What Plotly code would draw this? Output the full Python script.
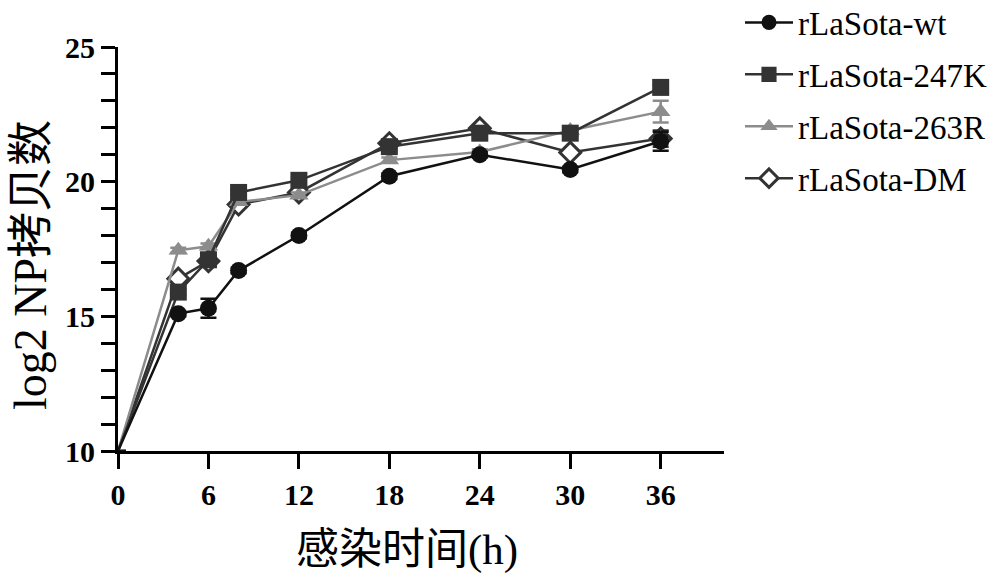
import plotly.graph_objects as go

hours = [0, 4, 6, 8, 12, 18, 24, 30, 36]
wt = [10, 15.1, 15.3, 16.7, 18.0, 20.2, 21.0, 20.45, 21.5]
k247 = [10, 15.9, 17.1, 19.6, 20.05, 21.3, 21.8, 21.8, 23.5]
r263 = [10, 17.45, 17.6, 19.25, 19.5, 20.8, 21.1, 21.9, 22.6]
dm = [10, 16.4, 17.05, 19.15, 19.6, 21.43, 21.98, 21.08, 21.6]
wt_err = [None, 0.1, 0.35, 0.1, 0.1, 0.1, 0.1, 0.1, 0.35]
k247_err = [None, 0.1, 0.1, 0.1, 0.1, 0.1, 0.1, 0.1, 0.1]
r263_err = [None, 0.1, 0.1, 0.1, 0.1, 0.1, 0.1, 0.1, 0.4]
dm_err = [None, 0.1, 0.1, 0.1, 0.1, 0.1, 0.1, 0.1, 0.3]


def sizes(s):
    return [0] + [s] * (len(hours) - 1)


series = [
    ("rLaSota-DM", dm, dm_err, "#333333", dict(symbol="diamond", color="white", size=sizes(16),
                                                line=dict(color="#333333", width=3)), 4),
    ("rLaSota-263R", r263, r263_err, "#8c8c8c", dict(symbol="triangle-up", color="#8c8c8c", size=sizes(17),
                                                      line=dict(width=0)), 3),
    ("rLaSota-247K", k247, k247_err, "#333333", dict(symbol="square", color="#333333", size=sizes(17),
                                                      line=dict(width=0)), 2),
    ("rLaSota-wt", wt, wt_err, "#111111", dict(symbol="circle", color="#111111", size=sizes(17),
                                               line=dict(width=0)), 1),
]

fig = go.Figure()
for name, vals, err, col, mk, rank in series:
    mk = dict(mk, opacity=1)
    fig.add_trace(go.Scatter(
        x=hours, y=vals, name=name, mode="lines+markers", legendgroup=name,
        line=dict(color=col, width=2.5), marker=mk, legendrank=rank,
        error_y=dict(type="data", array=err, color=col, thickness=2.5, width=8),
    ))

fnt = "Liberation Serif, Times New Roman, Noto Sans CJK SC, serif"
fig.update_layout(
    width=1000, height=584,
    margin=dict(l=118, r=276, t=47, b=133, autoexpand=False),
    plot_bgcolor="white", paper_bgcolor="white",
    font=dict(family=fnt, color="black"),
    showlegend=True,
    legend=dict(x=(740 - 118) / 606, y=1.13, xanchor="left", yanchor="top",
                font=dict(size=33, family=fnt), tracegroupgap=6, itemwidth=48,
                bgcolor="rgba(0,0,0,0)"),
    xaxis=dict(range=[0, 40.2], tickvals=[0, 6, 12, 18, 24, 30, 36],
               showline=True, linewidth=3, linecolor="black",
               ticks="outside", ticklen=15, tickwidth=3, tickcolor="black",
               showgrid=False, zeroline=False,
               tickfont=dict(size=30, family=fnt, weight="bold")),
    yaxis=dict(range=[10, 25], tickvals=[10, 15, 20, 25],
               showline=True, linewidth=3, linecolor="black",
               ticks="outside", ticklen=14, tickwidth=3, tickcolor="black",
               minor=dict(dtick=1, ticks="outside", ticklen=14, tickwidth=3, tickcolor="black"),
               showgrid=False, zeroline=False,
               tickfont=dict(size=30, family=fnt, weight="bold")),
    annotations=[
        dict(text="log2 NP拷贝数", textangle=-90, showarrow=False,
             xref="paper", yref="paper", x=(30 - 118) / 606, y=(451 - 265) / 404,
             xanchor="center", yanchor="middle",
             font=dict(size=46, family=fnt, color="black")),
        dict(text="感染时间(h)", showarrow=False,
             xref="paper", yref="paper", x=(407 - 118) / 606, y=(451 - 550) / 404,
             xanchor="center", yanchor="middle",
             font=dict(size=43, family=fnt, color="black")),
    ],
)

fig.write_html("out.html")
